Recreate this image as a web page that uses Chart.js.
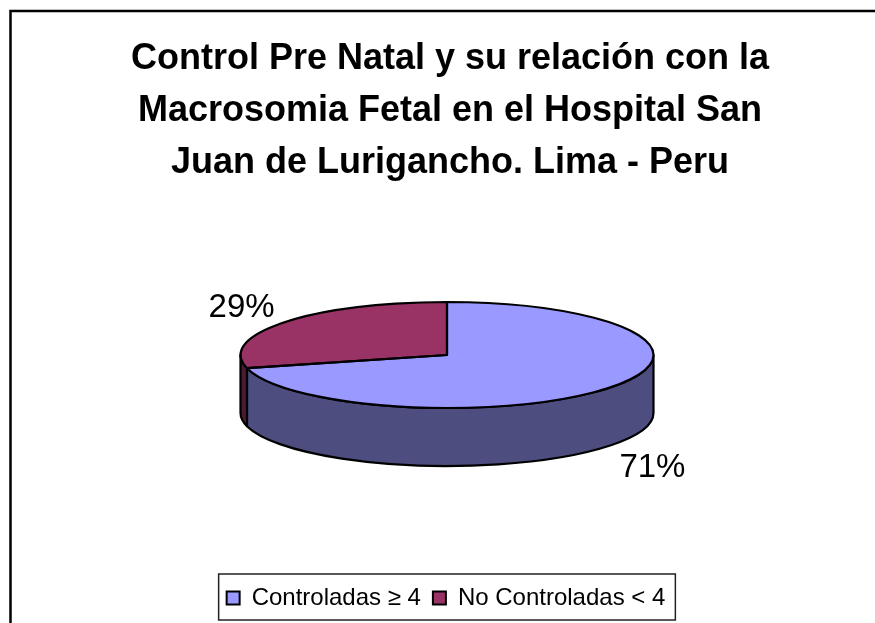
<!DOCTYPE html>
<html lang="es">
<head>
  <meta charset="UTF-8">
  <title>Control Pre Natal</title>
  <script src="https://cdn.jsdelivr.net/npm/chart.js"></script>
  <style>
    body { margin: 0; background: #fff; }
    canvas { display: block; }
  </style>
</head>
<body>
  <canvas id="pie" width="875" height="623"></canvas>
  <script>
    const categories = ['Controladas ≥ 4', 'No Controladas < 4'];
    const values = [71, 29];
    const topColors = ['#9999ff', '#993366'];
    const sideColors = ['#4d4d80', '#4d1a33'];
    const titleLines = [
      'Control Pre Natal y su relación con la',
      'Macrosomia Fetal en el Hospital San',
      'Juan de Lurigancho. Lima - Peru'
    ];

    // flattened 3D look: the pie is squashed and a wall drawn under it
    const pieX = 447, pieY = 355, radius = 206.5, squash = 53 / 206.5, depth = 58;

    const pie3d = {
      id: 'pie3d',
      beforeDraw(chart) {
        const ctx = chart.ctx;
        ctx.save();
        ctx.fillStyle = '#fff';
        ctx.fillRect(0, 0, chart.width, chart.height);
        ctx.strokeStyle = '#000';
        ctx.lineWidth = 2.5;
        ctx.beginPath();
        ctx.moveTo(10.5, chart.height);
        ctx.lineTo(10.5, 11);
        ctx.lineTo(chart.width, 11);
        ctx.stroke();
        ctx.restore();
      },
      // legend sits a little left of the title in the original
      afterLayout(chart) {
        chart.legend.left -= 4;
        chart.legend.right -= 4;
        chart.legend.adjustHitBoxes();
      },
      beforeDatasetsDraw(chart) {
        const ctx = chart.ctx;
        const ry = radius * squash;
        ctx.save();
        ctx.lineWidth = 2.2;
        ctx.lineJoin = 'round';
        ctx.strokeStyle = '#000';
        chart.getDatasetMeta(0).data.forEach((arc, i) => {
          const from = Math.max(arc.startAngle, 0);
          const to = Math.min(arc.endAngle, Math.PI);
          if (to <= from) return;
          ctx.beginPath();
          ctx.ellipse(pieX, pieY, radius, ry, 0, from, to);
          ctx.ellipse(pieX, pieY + depth, radius, ry, 0, to, from, true);
          ctx.closePath();
          ctx.fillStyle = sideColors[i];
          ctx.fill();
          ctx.stroke();
        });
        ctx.restore();
        ctx.save();
        const first = chart.getDatasetMeta(0).data[0];
        ctx.translate(pieX, pieY);
        ctx.scale(1, squash);
        ctx.translate(-first.x, -first.y);
      },
      afterDatasetsDraw(chart) {
        const ctx = chart.ctx;
        ctx.restore();
        const ry = radius * squash;
        ctx.save();
        ctx.lineWidth = 2.2;
        ctx.lineJoin = 'round';
        ctx.strokeStyle = '#000';
        const total = values.reduce((a, b) => a + b, 0);
        chart.getDatasetMeta(0).data.forEach(arc => {
          ctx.beginPath();
          ctx.moveTo(pieX, pieY);
          ctx.ellipse(pieX, pieY, radius, ry, 0, arc.startAngle, arc.endAngle);
          ctx.closePath();
          ctx.stroke();
        });
        ctx.fillStyle = '#000';
        ctx.font = '33px "Liberation Sans"';
        ctx.textAlign = 'center';
        ctx.textBaseline = 'middle';
        chart.getDatasetMeta(0).data.forEach((arc, i) => {
          const mid = (arc.startAngle + arc.endAngle) / 2;
          const x = pieX + 260 * Math.cos(mid);
          const sin = Math.sin(mid);
          const y = pieY + 77 * sin + (sin > 0 ? depth + 8 : 0);
          ctx.fillText(Math.round(values[i] / total * 100) + '%', x, y);
        });
        ctx.restore();
      },
      afterDraw(chart) {
        const ctx = chart.ctx;
        const legend = chart.legend;
        const boxes = legend.legendHitBoxes;
        const last = boxes[boxes.length - 1];
        const left = boxes[0].left - 8;
        const right = last.left + last.width + 10;
        ctx.save();
        ctx.strokeStyle = '#222';
        ctx.lineWidth = 1.5;
        ctx.strokeRect(left, legend.top, right - left, legend.height);
        ctx.restore();
      }
    };

    new Chart(document.getElementById('pie'), {
      type: 'pie',
      data: {
        labels: categories,
        datasets: [{
          data: values,
          backgroundColor: topColors,
          borderWidth: 0,
          radius: radius,
          clip: false
        }]
      },
      options: {
        responsive: false,
        animation: false,
        layout: { padding: { left: 25, top: 33, bottom: 3 } },
        plugins: {
          title: {
            display: true,
            text: titleLines,
            color: '#000',
            font: { family: '"Liberation Sans"', size: 36, weight: 'bold', lineHeight: 52 / 36 },
            padding: { top: 0, bottom: 10 }
          },
          legend: {
            position: 'bottom',
            labels: {
              color: '#000',
              font: { family: '"Liberation Sans"', size: 24 },
              boxWidth: 13,
              boxHeight: 13,
              padding: 12,
              generateLabels: chart => Chart.overrides.pie.plugins.legend.labels.generateLabels(chart)
                .map(item => ({ ...item, lineWidth: 2, strokeStyle: '#000' }))
            }
          },
          tooltip: { enabled: false }
        }
      },
      plugins: [pie3d]
    });
  </script>
</body>
</html>
